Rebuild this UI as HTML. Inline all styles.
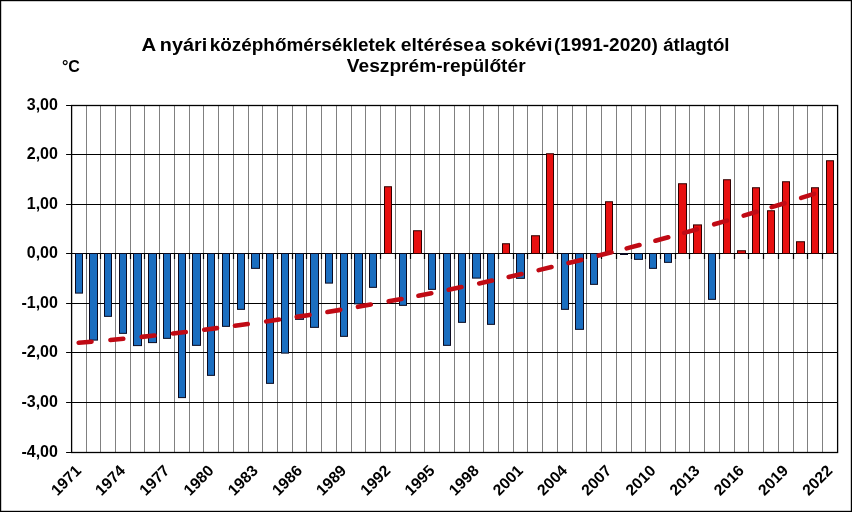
<!DOCTYPE html>
<html><head><meta charset="utf-8"><title>A nyári középhőmérsékletek eltérése</title>
<style>
html,body{margin:0;padding:0;background:#fff;}
body{width:852px;height:512px;overflow:hidden;}
svg{display:block;}
text{font-family:"Liberation Sans",Arial,sans-serif;font-weight:bold;fill:#000;}
.t{font-size:18.67px;}
.a{font-size:15px;}
.x{font-size:16px;}
.r{font-size:15.7px;}
</style></head><body>
<svg width="852" height="512" viewBox="0 0 852 512">
<rect x="0" y="0" width="852" height="512" fill="#fff"/>
<rect x="0.6" y="0.6" width="850.8" height="510.8" fill="none" stroke="#000" stroke-width="1.2"/>

<path d="M86.50,105.5V452.5M100.50,105.5V452.5M115.50,105.5V452.5M130.50,105.5V452.5M144.50,105.5V452.5M159.50,105.5V452.5M174.50,105.5V452.5M189.50,105.5V452.5M203.50,105.5V452.5M218.50,105.5V452.5M233.50,105.5V452.5M248.50,105.5V452.5M262.50,105.5V452.5M277.50,105.5V452.5M292.50,105.5V452.5M306.50,105.5V452.5M321.50,105.5V452.5M336.50,105.5V452.5M351.50,105.5V452.5M365.50,105.5V452.5M380.50,105.5V452.5M395.50,105.5V452.5M410.50,105.5V452.5M424.50,105.5V452.5M439.50,105.5V452.5M454.50,105.5V452.5M469.50,105.5V452.5M483.50,105.5V452.5M498.50,105.5V452.5M513.50,105.5V452.5M527.50,105.5V452.5M542.50,105.5V452.5M557.50,105.5V452.5M572.50,105.5V452.5M586.50,105.5V452.5M601.50,105.5V452.5M616.50,105.5V452.5M631.50,105.5V452.5M645.50,105.5V452.5M660.50,105.5V452.5M675.50,105.5V452.5M689.50,105.5V452.5M704.50,105.5V452.5M719.50,105.5V452.5M734.50,105.5V452.5M748.50,105.5V452.5M763.50,105.5V452.5M778.50,105.5V452.5M793.50,105.5V452.5M807.50,105.5V452.5M822.50,105.5V452.5" stroke="#808080" stroke-width="1" fill="none"/>
<path d="M71.6,154.5H837.6M71.6,204.5H837.6M71.6,303.5H837.6M71.6,352.5H837.6M71.6,402.5H837.6" stroke="#000" stroke-width="1.1" fill="none"/>
<rect x="71.6" y="105.5" width="766.00" height="347.00" fill="none" stroke="#000" stroke-width="1.3"/>
<path d="M66.1,105.5H71.6M66.1,154.5H71.6M66.1,204.5H71.6M66.1,253.5H71.6M66.1,303.5H71.6M66.1,352.5H71.6M66.1,402.5H71.6M66.1,452.5H71.6" stroke="#000" stroke-width="1.2" fill="none"/>
<path d="M71.6,253.5H837.6M86.50,253.5v5.5M100.50,253.5v5.5M115.50,253.5v5.5M130.50,253.5v5.5M144.50,253.5v5.5M159.50,253.5v5.5M174.50,253.5v5.5M189.50,253.5v5.5M203.50,253.5v5.5M218.50,253.5v5.5M233.50,253.5v5.5M248.50,253.5v5.5M262.50,253.5v5.5M277.50,253.5v5.5M292.50,253.5v5.5M306.50,253.5v5.5M321.50,253.5v5.5M336.50,253.5v5.5M351.50,253.5v5.5M365.50,253.5v5.5M380.50,253.5v5.5M395.50,253.5v5.5M410.50,253.5v5.5M424.50,253.5v5.5M439.50,253.5v5.5M454.50,253.5v5.5M469.50,253.5v5.5M483.50,253.5v5.5M498.50,253.5v5.5M513.50,253.5v5.5M527.50,253.5v5.5M542.50,253.5v5.5M557.50,253.5v5.5M572.50,253.5v5.5M586.50,253.5v5.5M601.50,253.5v5.5M616.50,253.5v5.5M631.50,253.5v5.5M645.50,253.5v5.5M660.50,253.5v5.5M675.50,253.5v5.5M689.50,253.5v5.5M704.50,253.5v5.5M719.50,253.5v5.5M734.50,253.5v5.5M748.50,253.5v5.5M763.50,253.5v5.5M778.50,253.5v5.5M793.50,253.5v5.5M807.50,253.5v5.5M822.50,253.5v5.5" stroke="#000" stroke-width="1.2" fill="none"/>
<rect x="75.50" y="253.50" width="7.00" height="39.60" fill="#1b6ec0" stroke="#0a0a20" stroke-width="1"/>
<rect x="89.50" y="253.50" width="8.00" height="86.60" fill="#1b6ec0" stroke="#0a0a20" stroke-width="1"/>
<rect x="104.50" y="253.50" width="7.00" height="62.85" fill="#1b6ec0" stroke="#0a0a20" stroke-width="1"/>
<rect x="119.50" y="253.50" width="7.00" height="79.85" fill="#1b6ec0" stroke="#0a0a20" stroke-width="1"/>
<rect x="133.50" y="253.50" width="8.00" height="92.10" fill="#1b6ec0" stroke="#0a0a20" stroke-width="1"/>
<rect x="148.50" y="253.50" width="8.00" height="89.10" fill="#1b6ec0" stroke="#0a0a20" stroke-width="1"/>
<rect x="163.50" y="253.50" width="7.00" height="84.85" fill="#1b6ec0" stroke="#0a0a20" stroke-width="1"/>
<rect x="178.50" y="253.50" width="7.00" height="144.10" fill="#1b6ec0" stroke="#0a0a20" stroke-width="1"/>
<rect x="192.50" y="253.50" width="8.00" height="91.85" fill="#1b6ec0" stroke="#0a0a20" stroke-width="1"/>
<rect x="207.50" y="253.50" width="7.00" height="121.85" fill="#1b6ec0" stroke="#0a0a20" stroke-width="1"/>
<rect x="222.50" y="253.50" width="7.00" height="72.85" fill="#1b6ec0" stroke="#0a0a20" stroke-width="1"/>
<rect x="237.50" y="253.50" width="7.00" height="55.85" fill="#1b6ec0" stroke="#0a0a20" stroke-width="1"/>
<rect x="251.50" y="253.50" width="8.00" height="14.85" fill="#1b6ec0" stroke="#0a0a20" stroke-width="1"/>
<rect x="266.50" y="253.50" width="7.00" height="129.85" fill="#1b6ec0" stroke="#0a0a20" stroke-width="1"/>
<rect x="281.50" y="253.50" width="7.00" height="99.60" fill="#1b6ec0" stroke="#0a0a20" stroke-width="1"/>
<rect x="295.50" y="253.50" width="8.00" height="65.85" fill="#1b6ec0" stroke="#0a0a20" stroke-width="1"/>
<rect x="310.50" y="253.50" width="8.00" height="73.85" fill="#1b6ec0" stroke="#0a0a20" stroke-width="1"/>
<rect x="325.50" y="253.50" width="7.00" height="29.60" fill="#1b6ec0" stroke="#0a0a20" stroke-width="1"/>
<rect x="340.50" y="253.50" width="7.00" height="82.85" fill="#1b6ec0" stroke="#0a0a20" stroke-width="1"/>
<rect x="354.50" y="253.50" width="8.00" height="50.35" fill="#1b6ec0" stroke="#0a0a20" stroke-width="1"/>
<rect x="369.50" y="253.50" width="7.00" height="33.85" fill="#1b6ec0" stroke="#0a0a20" stroke-width="1"/>
<rect x="399.50" y="253.50" width="7.00" height="51.85" fill="#1b6ec0" stroke="#0a0a20" stroke-width="1"/>
<rect x="428.50" y="253.50" width="7.00" height="35.85" fill="#1b6ec0" stroke="#0a0a20" stroke-width="1"/>
<rect x="443.50" y="253.50" width="7.00" height="91.85" fill="#1b6ec0" stroke="#0a0a20" stroke-width="1"/>
<rect x="458.50" y="253.50" width="7.00" height="68.85" fill="#1b6ec0" stroke="#0a0a20" stroke-width="1"/>
<rect x="472.50" y="253.50" width="8.00" height="24.60" fill="#1b6ec0" stroke="#0a0a20" stroke-width="1"/>
<rect x="487.50" y="253.50" width="7.00" height="70.85" fill="#1b6ec0" stroke="#0a0a20" stroke-width="1"/>
<rect x="516.50" y="253.50" width="8.00" height="24.85" fill="#1b6ec0" stroke="#0a0a20" stroke-width="1"/>
<rect x="561.50" y="253.50" width="7.00" height="55.85" fill="#1b6ec0" stroke="#0a0a20" stroke-width="1"/>
<rect x="575.50" y="253.50" width="8.00" height="75.85" fill="#1b6ec0" stroke="#0a0a20" stroke-width="1"/>
<rect x="590.50" y="253.50" width="7.00" height="30.85" fill="#1b6ec0" stroke="#0a0a20" stroke-width="1"/>
<rect x="620.50" y="253.50" width="7.00" height="1.00" fill="#1b6ec0" stroke="#0a0a20" stroke-width="1"/>
<rect x="634.50" y="253.50" width="8.00" height="5.85" fill="#1b6ec0" stroke="#0a0a20" stroke-width="1"/>
<rect x="649.50" y="253.50" width="7.00" height="14.85" fill="#1b6ec0" stroke="#0a0a20" stroke-width="1"/>
<rect x="664.50" y="253.50" width="7.00" height="8.85" fill="#1b6ec0" stroke="#0a0a20" stroke-width="1"/>
<rect x="708.50" y="253.50" width="7.00" height="45.85" fill="#1b6ec0" stroke="#0a0a20" stroke-width="1"/>
<rect x="384.50" y="186.75" width="7.00" height="66.75" fill="#e81010" stroke="#300000" stroke-width="1"/>
<rect x="413.50" y="230.75" width="8.00" height="22.75" fill="#e81010" stroke="#300000" stroke-width="1"/>
<rect x="502.50" y="243.75" width="7.00" height="9.75" fill="#e81010" stroke="#300000" stroke-width="1"/>
<rect x="531.50" y="235.75" width="8.00" height="17.75" fill="#e81010" stroke="#300000" stroke-width="1"/>
<rect x="546.50" y="153.75" width="7.00" height="99.75" fill="#e81010" stroke="#300000" stroke-width="1"/>
<rect x="605.50" y="201.75" width="7.00" height="51.75" fill="#e81010" stroke="#300000" stroke-width="1"/>
<rect x="678.50" y="183.75" width="8.00" height="69.75" fill="#e81010" stroke="#300000" stroke-width="1"/>
<rect x="693.50" y="224.90" width="8.00" height="28.60" fill="#e81010" stroke="#300000" stroke-width="1"/>
<rect x="723.50" y="179.75" width="7.00" height="73.75" fill="#e81010" stroke="#300000" stroke-width="1"/>
<rect x="737.50" y="250.75" width="8.00" height="2.75" fill="#e81010" stroke="#300000" stroke-width="1"/>
<rect x="752.50" y="187.75" width="7.00" height="65.75" fill="#e81010" stroke="#300000" stroke-width="1"/>
<rect x="767.50" y="210.75" width="7.00" height="42.75" fill="#e81010" stroke="#300000" stroke-width="1"/>
<rect x="782.50" y="181.75" width="7.00" height="71.75" fill="#e81010" stroke="#300000" stroke-width="1"/>
<rect x="796.50" y="241.75" width="8.00" height="11.75" fill="#e81010" stroke="#300000" stroke-width="1"/>
<rect x="811.50" y="187.75" width="7.00" height="65.75" fill="#e81010" stroke="#300000" stroke-width="1"/>
<rect x="826.50" y="160.75" width="7.00" height="92.75" fill="#e81010" stroke="#300000" stroke-width="1"/>
<path d="M78.70,342.79L91.50,341.70M110.45,339.98L123.25,338.75M141.70,336.89L154.50,335.53M172.95,333.48L185.75,332.00M204.20,329.76L217.00,328.15M234.95,325.79L247.75,324.05M266.20,321.44L279.00,319.57M296.70,316.89L309.50,314.90M327.45,312.00L340.25,309.88M357.95,306.85L370.75,304.60M388.70,301.35L401.50,298.97M418.45,295.73L431.25,293.23M448.70,289.73L461.50,287.10M479.20,283.38L492.00,280.62M508.70,276.95L521.50,274.07M538.70,270.12L551.50,267.11M568.45,263.06L581.25,259.93M598.70,255.59L611.50,252.33M626.70,248.40L639.50,245.04M655.45,240.77L668.25,237.28M684.20,232.86L697.00,229.26M714.20,224.33L727.00,220.60M743.70,215.65L756.50,211.80M771.70,207.16L784.50,203.19M801.20,197.93L814.00,193.84" stroke="#c00a14" stroke-width="4.6" stroke-linecap="round" fill="none"/>
<text class="x" x="57.9" y="110.0" text-anchor="end">3,00</text>
<text class="x" x="57.9" y="159.0" text-anchor="end">2,00</text>
<text class="x" x="57.9" y="209.0" text-anchor="end">1,00</text>
<text class="x" x="57.9" y="258.0" text-anchor="end">0,00</text>
<text class="x" x="57.9" y="308.0" text-anchor="end">-1,00</text>
<text class="x" x="57.9" y="357.0" text-anchor="end">-2,00</text>
<text class="x" x="57.9" y="407.0" text-anchor="end">-3,00</text>
<text class="x" x="57.9" y="457.0" text-anchor="end">-4,00</text>
<text class="r" text-anchor="end" transform="translate(82.10,471.7) rotate(-45)">1971</text>
<text class="r" text-anchor="end" transform="translate(126.29,471.7) rotate(-45)">1974</text>
<text class="r" text-anchor="end" transform="translate(170.48,471.7) rotate(-45)">1977</text>
<text class="r" text-anchor="end" transform="translate(214.68,471.7) rotate(-45)">1980</text>
<text class="r" text-anchor="end" transform="translate(258.87,471.7) rotate(-45)">1983</text>
<text class="r" text-anchor="end" transform="translate(303.06,471.7) rotate(-45)">1986</text>
<text class="r" text-anchor="end" transform="translate(347.25,471.7) rotate(-45)">1989</text>
<text class="r" text-anchor="end" transform="translate(391.45,471.7) rotate(-45)">1992</text>
<text class="r" text-anchor="end" transform="translate(435.64,471.7) rotate(-45)">1995</text>
<text class="r" text-anchor="end" transform="translate(479.83,471.7) rotate(-45)">1998</text>
<text class="r" text-anchor="end" transform="translate(524.02,471.7) rotate(-45)">2001</text>
<text class="r" text-anchor="end" transform="translate(568.22,471.7) rotate(-45)">2004</text>
<text class="r" text-anchor="end" transform="translate(612.41,471.7) rotate(-45)">2007</text>
<text class="r" text-anchor="end" transform="translate(656.60,471.7) rotate(-45)">2010</text>
<text class="r" text-anchor="end" transform="translate(700.79,471.7) rotate(-45)">2013</text>
<text class="r" text-anchor="end" transform="translate(744.98,471.7) rotate(-45)">2016</text>
<text class="r" text-anchor="end" transform="translate(789.18,471.7) rotate(-45)">2019</text>
<text class="r" text-anchor="end" transform="translate(833.37,471.7) rotate(-45)">2022</text>
<text class="x" x="61.9" y="71.7" textLength="18" lengthAdjust="spacing">°C</text>
<text class="t" y="51.0"><tspan x="141.50" textLength="13.90" lengthAdjust="spacingAndGlyphs">A</tspan> <tspan x="159.80" textLength="47.40" lengthAdjust="spacingAndGlyphs">nyári</tspan> <tspan x="209.80" textLength="186.00" lengthAdjust="spacingAndGlyphs">középhőmérsékletek</tspan> <tspan x="400.80" textLength="73.20" lengthAdjust="spacingAndGlyphs">eltérése</tspan> <tspan x="474.70" textLength="10.90" lengthAdjust="spacingAndGlyphs">a</tspan> <tspan x="490.80" textLength="61.70" lengthAdjust="spacingAndGlyphs">sokévi</tspan> <tspan x="554.00" textLength="103.80" lengthAdjust="spacingAndGlyphs">(1991-2020)</tspan> <tspan x="663.20" textLength="66.30" lengthAdjust="spacingAndGlyphs">átlagtól</tspan></text>
<text class="t" x="346.80" y="72.0" textLength="178.80" lengthAdjust="spacingAndGlyphs">Veszprém-repülőtér</text>
</svg></body></html>
